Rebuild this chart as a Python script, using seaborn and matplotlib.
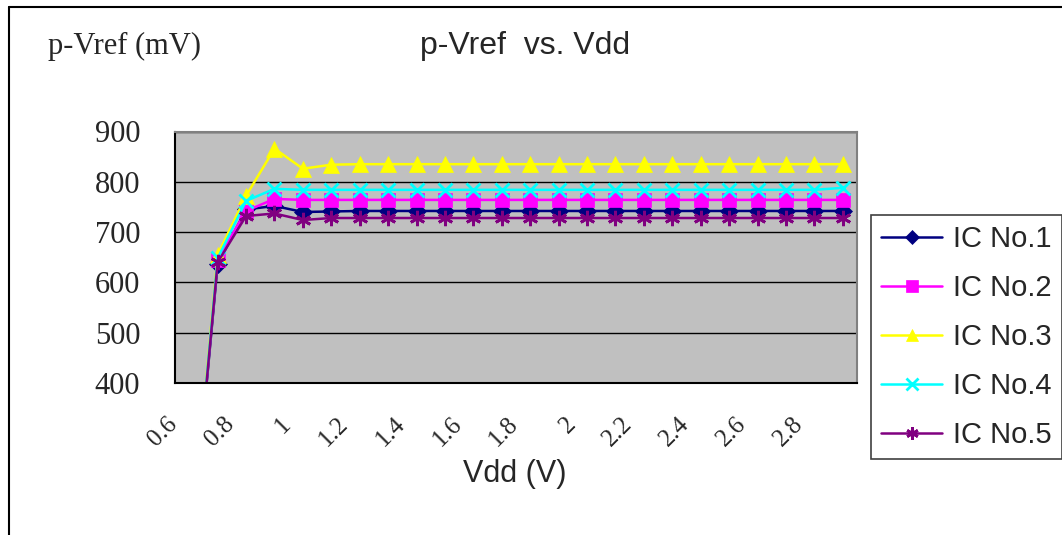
import matplotlib
matplotlib.use("Agg")
import matplotlib.pyplot as plt
import matplotlib.transforms as mtransforms
from matplotlib.lines import Line2D
import numpy as np
import pandas as pd
import seaborn as sns

# Vdd categories (V)
vdd = [0.6, 0.7, 0.8, 0.9, 1.0, 1.1, 1.2, 1.3, 1.4, 1.5, 1.6, 1.7,
       1.8, 1.9, 2.0, 2.1, 2.2, 2.3, 2.4, 2.5, 2.6, 2.7, 2.8, 2.9]

# p-Vref readings (mV) for each chip
ic1 = [25, 636, 745, 752, 740, 741, 742, 742, 742, 742, 742, 742,
       742, 742, 742, 742, 742, 742, 742, 742, 742, 742, 742, 742]
ic2 = [30, 645, 742, 766, 764, 764, 764, 764, 764, 764, 764, 764,
       764, 764, 764, 764, 764, 764, 764, 764, 764, 764, 764, 764]
ic3 = [35, 655, 772, 866, 826, 834, 835, 835, 835, 835, 835, 835,
       835, 835, 835, 835, 835, 835, 835, 835, 835, 835, 835, 835]
ic4 = [30, 648, 762, 786, 784, 784, 784, 784, 784, 784, 784, 784,
       784, 784, 784, 784, 784, 784, 784, 784, 784, 784, 784, 788]
ic5 = [25, 640, 732, 737, 724, 728, 728, 728, 728, 728, 728, 728,
       728, 728, 728, 728, 728, 728, 728, 728, 728, 728, 728, 728]

names = ["IC No.1", "IC No.2", "IC No.3", "IC No.4", "IC No.5"]
colors = {"IC No.1": "#000080", "IC No.2": "#FF00FF", "IC No.3": "#FFFF00",
          "IC No.4": "#00FFFF", "IC No.5": "#800080"}
marks = {"IC No.1": "D", "IC No.2": "s", "IC No.3": "^",
         "IC No.4": "x", "IC No.5": (6, 2, 0)}

rows = []
for name, vals in zip(names, [ic1, ic2, ic3, ic4, ic5]):
    for i, v in enumerate(vals):
        rows.append({"pos": i, "mV": v, "ic": name})
df = pd.DataFrame(rows)

sns.set_style("white")
serif = "Liberation Serif"
sans = "Liberation Sans"

fig = plt.figure(figsize=(10.62, 5.35), dpi=100)
ax = fig.add_axes([175 / 1062, 1 - 383 / 535, (857 - 175) / 1062, (383 - 131.5) / 535])
ax.set_facecolor("#C0C0C0")

sns.lineplot(data=df, x="pos", y="mV", hue="ic", hue_order=names, palette=colors,
             linewidth=1.8, legend=False, sort=False, ax=ax)

# seaborn won't mix filled and line-art markers, so set them on the lines here
sizes = {"IC No.1": 9, "IC No.2": 10, "IC No.3": 11, "IC No.4": 10, "IC No.5": 11}
for line, name in zip(ax.lines, names):
    c = colors[name]
    line.set_marker(marks[name])
    line.set_markersize(sizes[name])
    line.set_markeredgecolor(c)
    line.set_markerfacecolor(c)
    line.set_markeredgewidth(2 if name in ("IC No.4", "IC No.5") else 0.5)
    line.set_label(name)

ax.set_xlim(-0.5, len(vdd) - 0.5)
ax.set_ylim(400, 900)
ax.set_yticks([400, 500, 600, 700, 800, 900])
ax.set_yticklabels([str(v) for v in [400, 500, 600, 700, 800, 900]],
                   fontfamily=serif, fontsize=22)
ax.yaxis.grid(True, color="black", linewidth=1)
ax.xaxis.grid(False)
ax.tick_params(axis="y", direction="in", length=8, width=1, color="black", pad=25)

# tick marks at category boundaries, labels at every other category
ax.set_xticks(np.arange(0.5, len(vdd) - 0.5, 1.0))
ax.set_xticklabels([])
ax.tick_params(axis="x", which="major", direction="in", length=6, width=1, color="black")
lab_pos = list(range(0, len(vdd), 2))
ax.set_xticks(lab_pos, minor=True)
ax.set_xticklabels(["%g" % vdd[i] for i in lab_pos], minor=True,
                   fontfamily=serif, fontsize=18, rotation=45,
                   ha="right", va="center", rotation_mode="anchor")
ax.tick_params(axis="x", which="minor", length=0, pad=27)
shift = mtransforms.ScaledTranslation(-15 / 100, 0, fig.dpi_scale_trans)
for lab in ax.get_xticklabels(minor=True):
    lab.set_transform(lab.get_transform() + shift)

ax.set_xlabel("")
ax.set_ylabel("")
for side in ["left", "bottom"]:
    ax.spines[side].set_color("black")
    ax.spines[side].set_linewidth(1.5)
for side in ["top", "right"]:
    ax.spines[side].set_color("#808080")
    ax.spines[side].set_linewidth(1.5)

fig.text(48 / 1062, 1 - 46 / 535, "p-Vref (mV)", fontfamily=serif, fontsize=22,
         ha="left", va="center")
fig.text(525 / 1062, 1 - 46 / 535, "p-Vref  vs. Vdd", fontfamily=sans, fontsize=23,
         ha="center", va="center")
fig.text(515 / 1062, 1 - 474 / 535, "Vdd (V)", fontfamily=sans, fontsize=22,
         ha="center", va="center")

leg = ax.legend(handles=ax.lines[:5], labels=names, loc="upper left",
                bbox_to_anchor=(871 / 1062, 1 - 215 / 535), bbox_transform=fig.transFigure,
                prop={"family": sans, "size": 21}, frameon=True, fancybox=False,
                edgecolor="#404040", framealpha=1, borderpad=0.35, handlelength=2.1,
                handletextpad=0.35, labelspacing=0.72, borderaxespad=0, markerscale=0.8)
leg.get_frame().set_linewidth(1.2)

# outer chart border (left and top edges)
fig.add_artist(Line2D([9 / 1062, 9 / 1062], [0, 1 - 7 / 535], transform=fig.transFigure,
                      color="black", linewidth=1.5))
fig.add_artist(Line2D([9 / 1062, 1], [1 - 7 / 535, 1 - 7 / 535], transform=fig.transFigure,
                      color="black", linewidth=1.5))

fig.savefig("out.png", dpi=100, facecolor="white")
